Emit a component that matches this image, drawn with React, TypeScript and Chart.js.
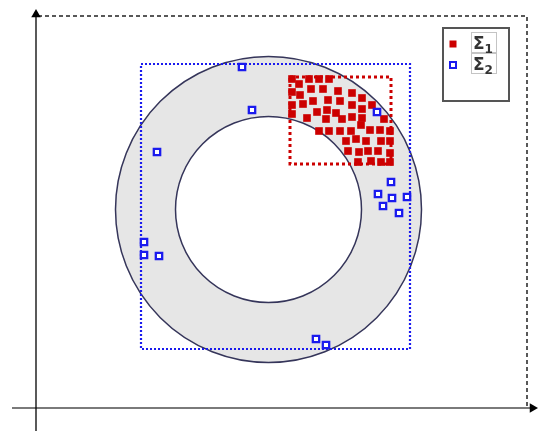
import React, { useEffect, useRef } from "react";
import { Chart, registerables } from "chart.js";

Chart.register(...registerables);

// ---- data (units: 1 = 10 px of the reference, origin at the axes' crossing) ----
const SERIES_LABELS = ["Σ1", "Σ2"];

const SIGMA1_X = [
  25.6, 26.3, 27.3, 28.3, 29.3, 25.6, 26.4, 27.5, 28.7, 30.2, 31.6, 25.6, 26.7,
  27.7, 29.2, 30.4, 31.6, 32.6, 33.6, 32.6, 25.6, 27.1, 28.1, 29.0, 30.0, 30.6,
  31.6, 32.6, 34.8, 28.3, 29.3, 30.4, 31.5, 32.5, 33.4, 34.4, 35.4, 31.0, 32.0,
  33.0, 34.5, 35.4, 31.2, 32.3, 33.2, 34.2, 35.4, 32.2, 33.5, 34.5, 35.4, 29.1,
];
const SIGMA1_Y = [
  32.9, 32.4, 32.9, 32.9, 32.9, 31.6, 31.3, 31.9, 31.9, 31.7, 31.5, 30.3, 30.4,
  30.7, 30.8, 30.7, 30.3, 31.0, 30.3, 29.9, 29.4, 29.0, 29.6, 28.9, 29.5, 28.9,
  29.1, 29.0, 28.9, 27.7, 27.7, 27.7, 27.7, 28.3, 27.8, 27.8, 27.7, 26.7, 26.9,
  26.7, 26.7, 26.7, 25.7, 25.6, 25.7, 25.7, 25.5, 24.6, 24.7, 24.6, 24.6, 29.8,
];

const SIGMA2_X = [20.6, 21.6, 12.1, 34.1, 35.5, 34.2, 35.6, 37.1, 34.7, 36.3, 10.8, 10.8, 12.3, 28.0, 29.0];
const SIGMA2_Y = [34.1, 29.8, 25.6, 29.6, 22.6, 21.4, 21.0, 21.1, 20.2, 19.5, 16.6, 15.3, 15.2, 6.9, 6.3];

const RING_CENTER_X = 23.25;
const RING_CENTER_Y = 19.85;
const RING_OUTER_R = 15.3;
const RING_INNER_R = 9.3;

const OUTER_BOX_X = [0.2, 49.1, 49.1];
const OUTER_BOX_Y = [39.2, 39.2, 0];
const BLUE_BOX_X = [10.5, 37.4, 37.4, 10.5, 10.5];
const BLUE_BOX_Y = [34.4, 34.4, 5.9, 5.9, 34.4];
const RED_BOX_X = [25.4, 35.5, 35.5, 25.4, 25.4];
const RED_BOX_Y = [33.1, 33.1, 24.4, 24.4, 33.1];

const X_AXIS_X = [-2.4, 49.6];
const X_AXIS_Y = [0, 0];
const Y_AXIS_X = [0, 0];
const Y_AXIS_Y = [-2.3, 39.3];
const X_ARROW = [49.65, 0];
const Y_ARROW = [0, 39.35];

const X_RANGE = [-3.6, 50.6];
const Y_RANGE = [-2.3, 40.8];

const RED = "#cc0000";
const BLUE = "#1a1aee";

const pts = (xs: number[], ys: number[]) => xs.map((x, i) => ({ x, y: ys[i] }));

const ringPlugin = {
  id: "ring",
  beforeDatasetsDraw(chart: any) {
    const { ctx, scales } = chart;
    const x = scales.x;
    const y = scales.y;
    const cx = x.getPixelForValue(RING_CENTER_X);
    const cy = y.getPixelForValue(RING_CENTER_Y);
    const ro = Math.abs(x.getPixelForValue(RING_CENTER_X + RING_OUTER_R) - cx);
    const ri = Math.abs(x.getPixelForValue(RING_CENTER_X + RING_INNER_R) - cx);
    ctx.save();
    ctx.lineWidth = 1.5;
    ctx.strokeStyle = "#35355a";
    ctx.beginPath();
    ctx.arc(cx, cy, ro, 0, Math.PI * 2);
    ctx.fillStyle = "#e6e6e6";
    ctx.fill();
    ctx.stroke();
    ctx.beginPath();
    ctx.arc(cx, cy, ri, 0, Math.PI * 2);
    ctx.fillStyle = "#ffffff";
    ctx.fill();
    ctx.stroke();
    ctx.restore();
  },
};

const legendPlugin = {
  id: "customLegend",
  afterDatasetsDraw(chart: any) {
    const { ctx, chartArea } = chart;
    const left = chartArea.right - 99;
    const top = chartArea.top + 28;
    ctx.save();
    ctx.fillStyle = "#ffffff";
    ctx.fillRect(left, top, 66, 73);
    ctx.lineWidth = 2;
    ctx.strokeStyle = "#555555";
    ctx.strokeRect(left, top, 66, 73);

    const rows = [
      { label: SERIES_LABELS[0], fill: RED, stroke: null, cy: top + 16 },
      { label: SERIES_LABELS[1], fill: "#ffffff", stroke: BLUE, cy: top + 37 },
    ];
    rows.forEach((r) => {
      const mx = left + 10;
      if (r.stroke) {
        ctx.fillStyle = r.fill;
        ctx.fillRect(mx - 3, r.cy - 3, 6, 6);
        ctx.lineWidth = 2;
        ctx.strokeStyle = r.stroke;
        ctx.strokeRect(mx - 3, r.cy - 3, 6, 6);
      } else {
        ctx.fillStyle = r.fill;
        ctx.fillRect(mx - 3.5, r.cy - 3.5, 7, 7);
      }
      // label box
      ctx.lineWidth = 1;
      ctx.strokeStyle = "#c4c4c4";
      ctx.strokeRect(left + 28.5, r.cy - 11.5, 25, 20);
      const base = r.label.slice(0, 1);
      const sub = r.label.slice(1);
      ctx.fillStyle = "#333333";
      ctx.textBaseline = "alphabetic";
      ctx.font = 'bold 17px "DejaVu Sans"';
      ctx.fillText(base, left + 30, r.cy + 5);
      const w = ctx.measureText(base).width;
      ctx.font = 'bold 12px "DejaVu Sans"';
      ctx.fillText(sub, left + 30 + w, r.cy + 9);
    });
    ctx.restore();
  },
};

export default function App() {
  const ref = useRef<HTMLCanvasElement | null>(null);

  useEffect(() => {
    if (!ref.current) return;
    const lineDs = (label: string, xs: number[], ys: number[], color: string, width: number, dash: number[]) => ({
      type: "line" as const,
      label,
      data: pts(xs, ys),
      showLine: true,
      borderColor: color,
      borderWidth: width,
      borderDash: dash,
      borderCapStyle: "butt",
      pointRadius: 0,
      fill: false,
      tension: 0,
    });

    const chart = new Chart(ref.current, {
      type: "scatter",
      data: {
        datasets: [
          {
            label: SERIES_LABELS[1],
            data: pts(SIGMA2_X, SIGMA2_Y),
            pointStyle: "rect",
            pointRadius: 4.5,
            pointBorderWidth: 2.3,
            pointBackgroundColor: "#ffffff",
            pointBorderColor: BLUE,
          },
          {
            label: SERIES_LABELS[0],
            data: pts(SIGMA1_X, SIGMA1_Y),
            pointStyle: "rect",
            pointRadius: 5.4,
            pointBorderWidth: 0,
            pointBackgroundColor: RED,
            pointBorderColor: RED,
          },
          lineDs("red box", RED_BOX_X, RED_BOX_Y, RED, 3, [3, 3]),
          lineDs("blue box", BLUE_BOX_X, BLUE_BOX_Y, BLUE, 2.2, [2, 2]),
          {
            label: "x arrow",
            data: [{ x: X_ARROW[0], y: X_ARROW[1] }],
            pointStyle: "triangle",
            rotation: 90,
            pointRadius: 5.5,
            pointBorderWidth: 0,
            pointBackgroundColor: "#000000",
          },
          {
            label: "y arrow",
            data: [{ x: Y_ARROW[0], y: Y_ARROW[1] }],
            pointStyle: "triangle",
            rotation: 0,
            pointRadius: 5.5,
            pointBorderWidth: 0,
            pointBackgroundColor: "#000000",
          },
          lineDs("y axis", Y_AXIS_X, Y_AXIS_Y, "#000000", 1.3, []),
          lineDs("x axis", X_AXIS_X, X_AXIS_Y, "#7a7a7a", 2, []),
          lineDs("outer box", OUTER_BOX_X, OUTER_BOX_Y, "#222222", 1.5, [4, 3]),
        ] as any,
      },
      options: {
        animation: false,
        responsive: true,
        maintainAspectRatio: false,
        clip: false as any,
        layout: { padding: 0, autoPadding: false } as any,
        plugins: {
          legend: { display: false },
          tooltip: { enabled: false },
        },
        events: [],
        scales: {
          x: { type: "linear", min: X_RANGE[0], max: X_RANGE[1], display: false },
          y: { type: "linear", min: Y_RANGE[0], max: Y_RANGE[1], display: false },
        },
      },
      plugins: [ringPlugin, legendPlugin],
    });
    return () => chart.destroy();
  }, []);

  return (
    <div style={{ position: "fixed", left: 0, top: 0, width: 542, height: 431, background: "#fff" }}>
      <canvas ref={ref} />
    </div>
  );
}
